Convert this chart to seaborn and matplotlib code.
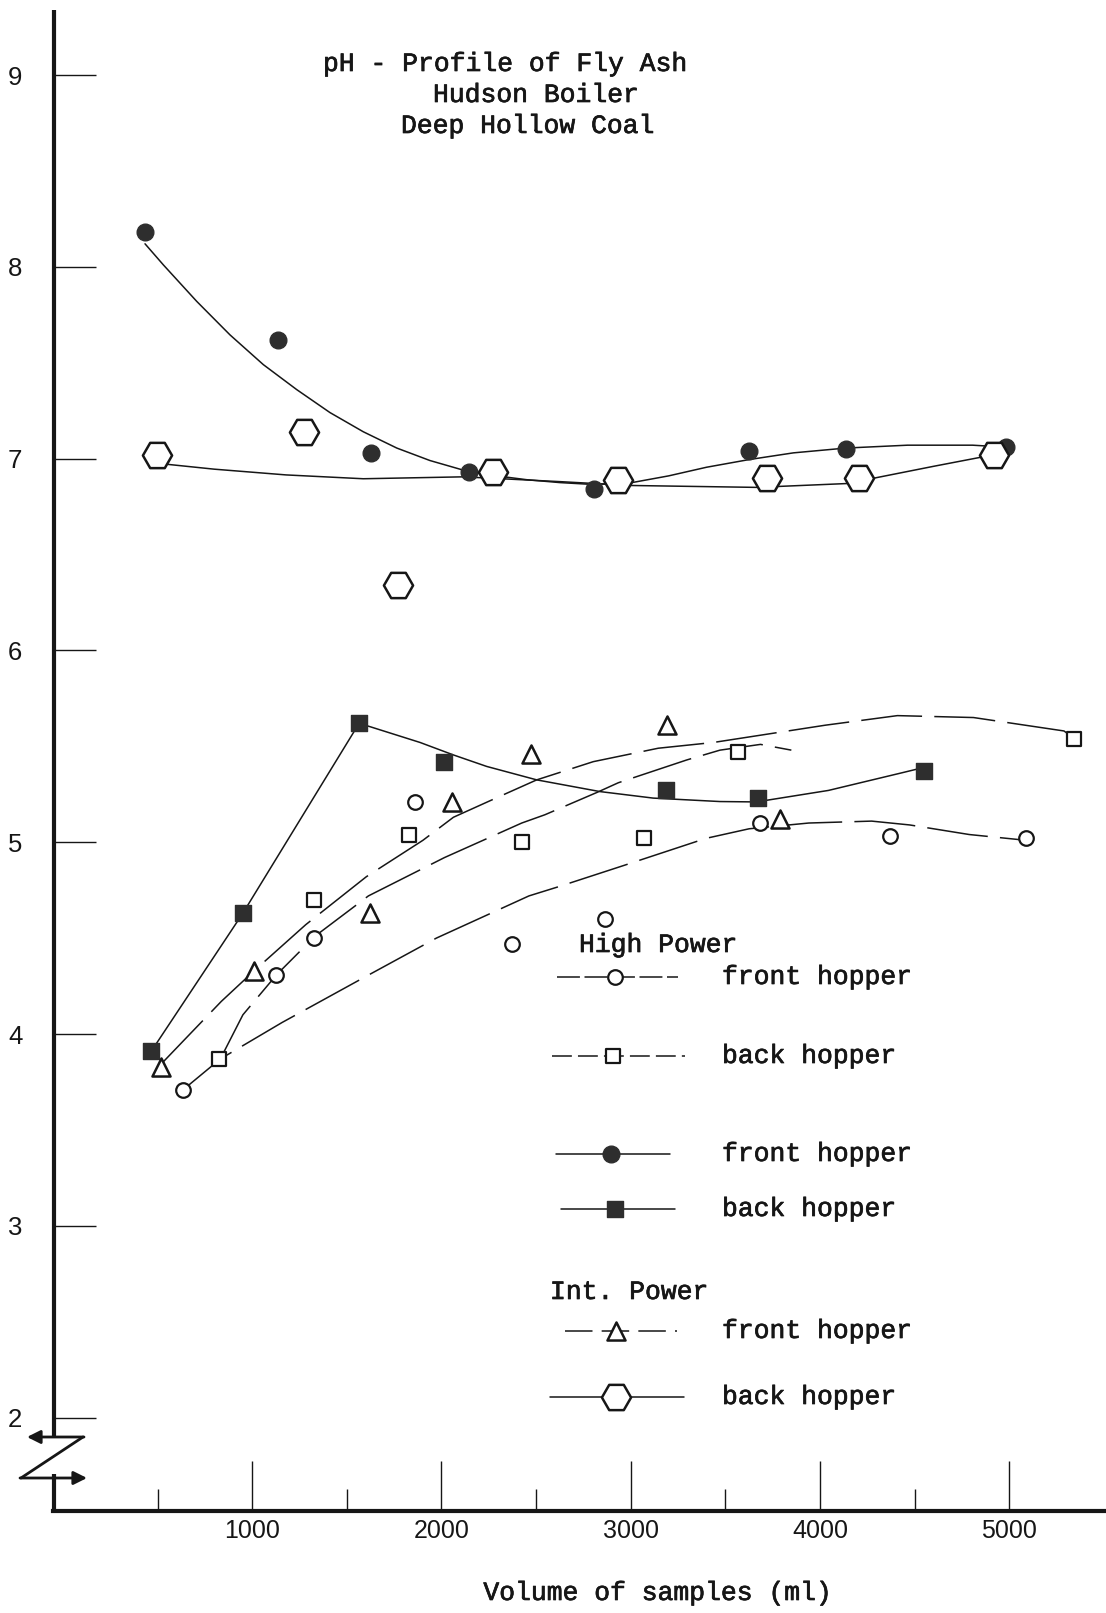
import matplotlib
matplotlib.use('Agg')
import matplotlib.pyplot as plt
import matplotlib.patheffects as pe
import seaborn as sns

sns.set_theme(style='white')
plt.rcParams['font.family'] = ['Liberation Sans', 'DejaVu Sans']

# --- measured points (volume ml, pH) ---
hp_front_x = [636, 1125, 1326, 1859, 2375, 2864, 3685, 4370, 5087]
hp_front_ph = [3.71, 4.31, 4.50, 5.21, 4.47, 4.60, 5.10, 5.03, 5.02]

hp_back_x = [826, 1326, 1826, 2424, 3071, 3565, 5343]
hp_back_ph = [3.87, 4.70, 5.04, 5.00, 5.02, 5.47, 5.54]

solid_front_x = [435, 1136, 1630, 2147, 2804, 3625, 4136, 4984]
solid_front_ph = [8.18, 7.62, 7.03, 6.93, 6.84, 7.04, 7.05, 7.06]

solid_back_x = [467, 951, 1565, 2011, 3185, 3674, 4549]
solid_back_ph = [3.91, 4.63, 5.62, 5.42, 5.27, 5.23, 5.37]

int_front_x = [516, 1011, 1625, 2054, 2473, 3190, 3788]
int_front_ph = [3.83, 4.33, 4.63, 5.21, 5.46, 5.61, 5.12]

int_back_x = [495, 1272, 1772, 2272, 2930, 3718, 4207, 4919]
int_back_ph = [7.02, 7.14, 6.34, 6.93, 6.89, 6.90, 6.90, 7.02]

# --- hand drawn trend curves ---
curve_solid_front_x = [434, 531, 707, 883, 1059, 1235, 1411, 1587, 1764, 1939, 2115, 2292,
                       2450, 2625, 2804, 3006, 3200, 3400, 3625, 3859, 4136, 4462, 4805, 4978]
curve_solid_front_ph = [8.12, 8.01, 7.82, 7.645, 7.49, 7.36, 7.24, 7.14, 7.055, 6.99, 6.94, 6.91,
                        6.89, 6.875, 6.865, 6.875, 6.91, 6.955, 6.995, 7.03, 7.055, 7.07, 7.07, 7.06]

curve_int_back_x = [495, 554, 799, 1179, 1587, 2115, 2625, 2995, 3663, 4141, 4294, 4600, 4864, 4919]
curve_int_back_ph = [7.00, 6.97, 6.945, 6.915, 6.895, 6.905, 6.88, 6.86, 6.85, 6.87, 6.90, 6.96, 7.01, 7.02]

curve_solid_back_x = [467, 951, 1565, 1630, 1887, 2063, 2239, 2503, 2837, 3118, 3471, 3663,
                      4044, 4424, 4549]
curve_solid_back_ph = [3.91, 4.63, 5.62, 5.60, 5.52, 5.455, 5.395, 5.325, 5.264, 5.23, 5.212, 5.21,
                       5.27, 5.36, 5.39]

curve_dash_upper_x = [516, 652, 837, 1011, 1283, 1603, 1902, 2063, 2265, 2503, 2802,
                      3145, 3436, 4027, 4408, 4810, 5288, 5343]
curve_dash_upper_ph = [3.84, 3.98, 4.17, 4.33, 4.57, 4.82, 5.01, 5.13, 5.22, 5.325, 5.42,
                       5.49, 5.52, 5.61, 5.66, 5.65, 5.58, 5.54]

curve_dash_mid_x = [832, 951, 1130, 1332, 1614, 2016, 2424, 2546, 2820, 2934, 3296, 3471, 3685, 3848]
curve_dash_mid_ph = [3.87, 4.10, 4.31, 4.51, 4.72, 4.92, 5.10, 5.143, 5.259, 5.31, 5.429, 5.48, 5.51, 5.48]

curve_dash_low_x = [636, 832, 1158, 1582, 1973, 2462, 2625, 2967, 3397, 3625, 3940, 4272, 4473, 4788, 5087]
curve_dash_low_ph = [3.71, 3.87, 4.06, 4.29, 4.50, 4.72, 4.77, 4.88, 5.02, 5.07, 5.10, 5.11, 5.09, 5.04, 5.01]

y_ticks = [2, 3, 4, 5, 6, 7, 8, 9]
x_ticks = [1000, 2000, 3000, 4000, 5000]
x_minor = [500, 1500, 2500, 3500, 4500]

ink = '#161616'
fill = '#2e2e2e'
mono = ['Liberation Mono', 'DejaVu Sans Mono']
heavy = [pe.withStroke(linewidth=0.5, foreground=ink)]
dash_long = (0, (40, 8))

fig = plt.figure(figsize=(11.06, 16.13), dpi=100)
ax = fig.add_axes([53 / 1106, 1 - 1511 / 1613, 1053 / 1106, 1501 / 1613])
ax.set_xlim(-52, 5510)
ax.set_ylim(1.513, 9.339)

# curves
for cx, cy, ls in [(curve_solid_front_x, curve_solid_front_ph, '-'),
                   (curve_int_back_x, curve_int_back_ph, '-'),
                   (curve_solid_back_x, curve_solid_back_ph, '-'),
                   (curve_dash_upper_x, curve_dash_upper_ph, dash_long),
                   (curve_dash_mid_x, curve_dash_mid_ph, dash_long),
                   (curve_dash_low_x, curve_dash_low_ph, dash_long)]:
    sns.lineplot(x=cx, y=cy, sort=False, estimator=None, color=ink,
                 linewidth=1.1, linestyle=ls, ax=ax)

# points
styles = {
    'hp_front': dict(marker='o', s=10.5 ** 2, color='white', edgecolor=ink, linewidth=1.6),
    'hp_back': dict(marker='s', s=9.5 ** 2, color='white', edgecolor=ink, linewidth=1.6),
    'solid_front': dict(marker='o', s=12 ** 2, color=fill, edgecolor=fill, linewidth=1),
    'solid_back': dict(marker='s', s=12 ** 2, color=fill, edgecolor=fill, linewidth=1),
    'int_front': dict(marker='^', s=13 ** 2, color='white', edgecolor=ink, linewidth=1.8),
    'int_back': dict(marker='H', s=21 ** 2, color='white', edgecolor=ink, linewidth=1.8),
}
for key, px, py in [('hp_front', hp_front_x, hp_front_ph),
                    ('hp_back', hp_back_x, hp_back_ph),
                    ('solid_front', solid_front_x, solid_front_ph),
                    ('solid_back', solid_back_x, solid_back_ph),
                    ('int_front', int_front_x, int_front_ph),
                    ('int_back', int_back_x, int_back_ph)]:
    sns.scatterplot(x=px, y=py, zorder=4, ax=ax, **styles[key])

ax.set_xlabel('')
ax.set_ylabel('')
ax.set_yticks(y_ticks)
ax.set_yticklabels([str(t) for t in y_ticks])
ax.set_xticks(x_ticks)
ax.set_xticklabels([str(t) for t in x_ticks])
ax.set_xticks(x_minor, minor=True)
ax.tick_params(axis='y', direction='in', length=31, width=1, pad=22, labelsize=18.5,
               left=True, colors=ink)
ax.tick_params(axis='x', which='major', direction='in', length=36, width=1, pad=6,
               labelsize=18, bottom=True, colors=ink)
ax.tick_params(axis='x', which='minor', direction='in', length=16, width=1, bottom=True, colors=ink)
for side in ['left', 'top', 'right']:
    ax.spines[side].set_visible(False)
ax.spines['bottom'].set_linewidth(3)
ax.spines['bottom'].set_color(ink)

# overlay in pixel units for axis break, title and hand drawn key
ov = fig.add_axes([0, 0, 1, 1], zorder=5)
ov.set_xlim(0, 1106)
ov.set_ylim(1613, 0)
ov.axis('off')
ov.patch.set_alpha(0)

ov.plot([54, 54], [10, 1437], color=ink, lw=3, solid_capstyle='butt')
ov.plot([54, 54], [1474, 1512], color=ink, lw=3, solid_capstyle='butt')
ov.plot([83, 21], [1437, 1478], color=ink, lw=2)
ov.annotate('', xy=(27, 1437), xytext=(84, 1437),
            arrowprops=dict(arrowstyle='-|>', lw=2, color=ink, mutation_scale=20,
                            shrinkA=0, shrinkB=0))
ov.annotate('', xy=(87, 1478), xytext=(20, 1478),
            arrowprops=dict(arrowstyle='-|>', lw=2, color=ink, mutation_scale=20,
                            shrinkA=0, shrinkB=0))

# title
title_lines = [(323, 64, 'pH - Profile of Fly Ash'),
               (433, 95, 'Hudson Boiler'),
               (401, 126, 'Deep Hollow Coal')]
for tx, ty, line in title_lines:
    ov.text(tx, ty, line, family=mono, fontsize=19, color=ink, va='center',
            path_effects=heavy)

# key
ov.text(579, 945, 'High Power', family=mono, fontsize=19, color=ink, va='center',
        path_effects=heavy)
ov.text(550, 1292, 'Int. Power', family=mono, fontsize=19, color=ink, va='center',
        path_effects=heavy)
key_rows = [
    ('hp_front', 557, 678, 615, 977, (0, (15, 3)), 'front hopper'),
    ('hp_back', 552, 685, 613, 1056, (0, (13, 4)), 'back hopper'),
    ('solid_front', 556, 670, 611, 1154, '-', 'front hopper'),
    ('solid_back', 561, 675, 615, 1209, '-', 'back hopper'),
    ('int_front', 565, 677, 616, 1331, (0, (18, 6)), 'front hopper'),
    ('int_back', 550, 684, 616, 1397, '-', 'back hopper'),
]
for key, x0, x1, xm, yk, ls, label in key_rows:
    st = styles[key]
    ov.plot([x0, x1], [yk, yk], color=ink, lw=1.1, linestyle=ls)
    ov.scatter([xm], [yk], marker=st['marker'], s=st['s'], color=st['color'],
               edgecolor=st['edgecolor'], linewidth=st['linewidth'], zorder=3)
    ov.text(722, yk, label, family=mono, fontsize=19, color=ink, va='center',
            path_effects=heavy)

ov.text(658, 1593, 'Volume of samples (ml)', family=mono, fontsize=19, color=ink,
        ha='center', va='center', path_effects=heavy)

fig.savefig('out.png', dpi=100)
